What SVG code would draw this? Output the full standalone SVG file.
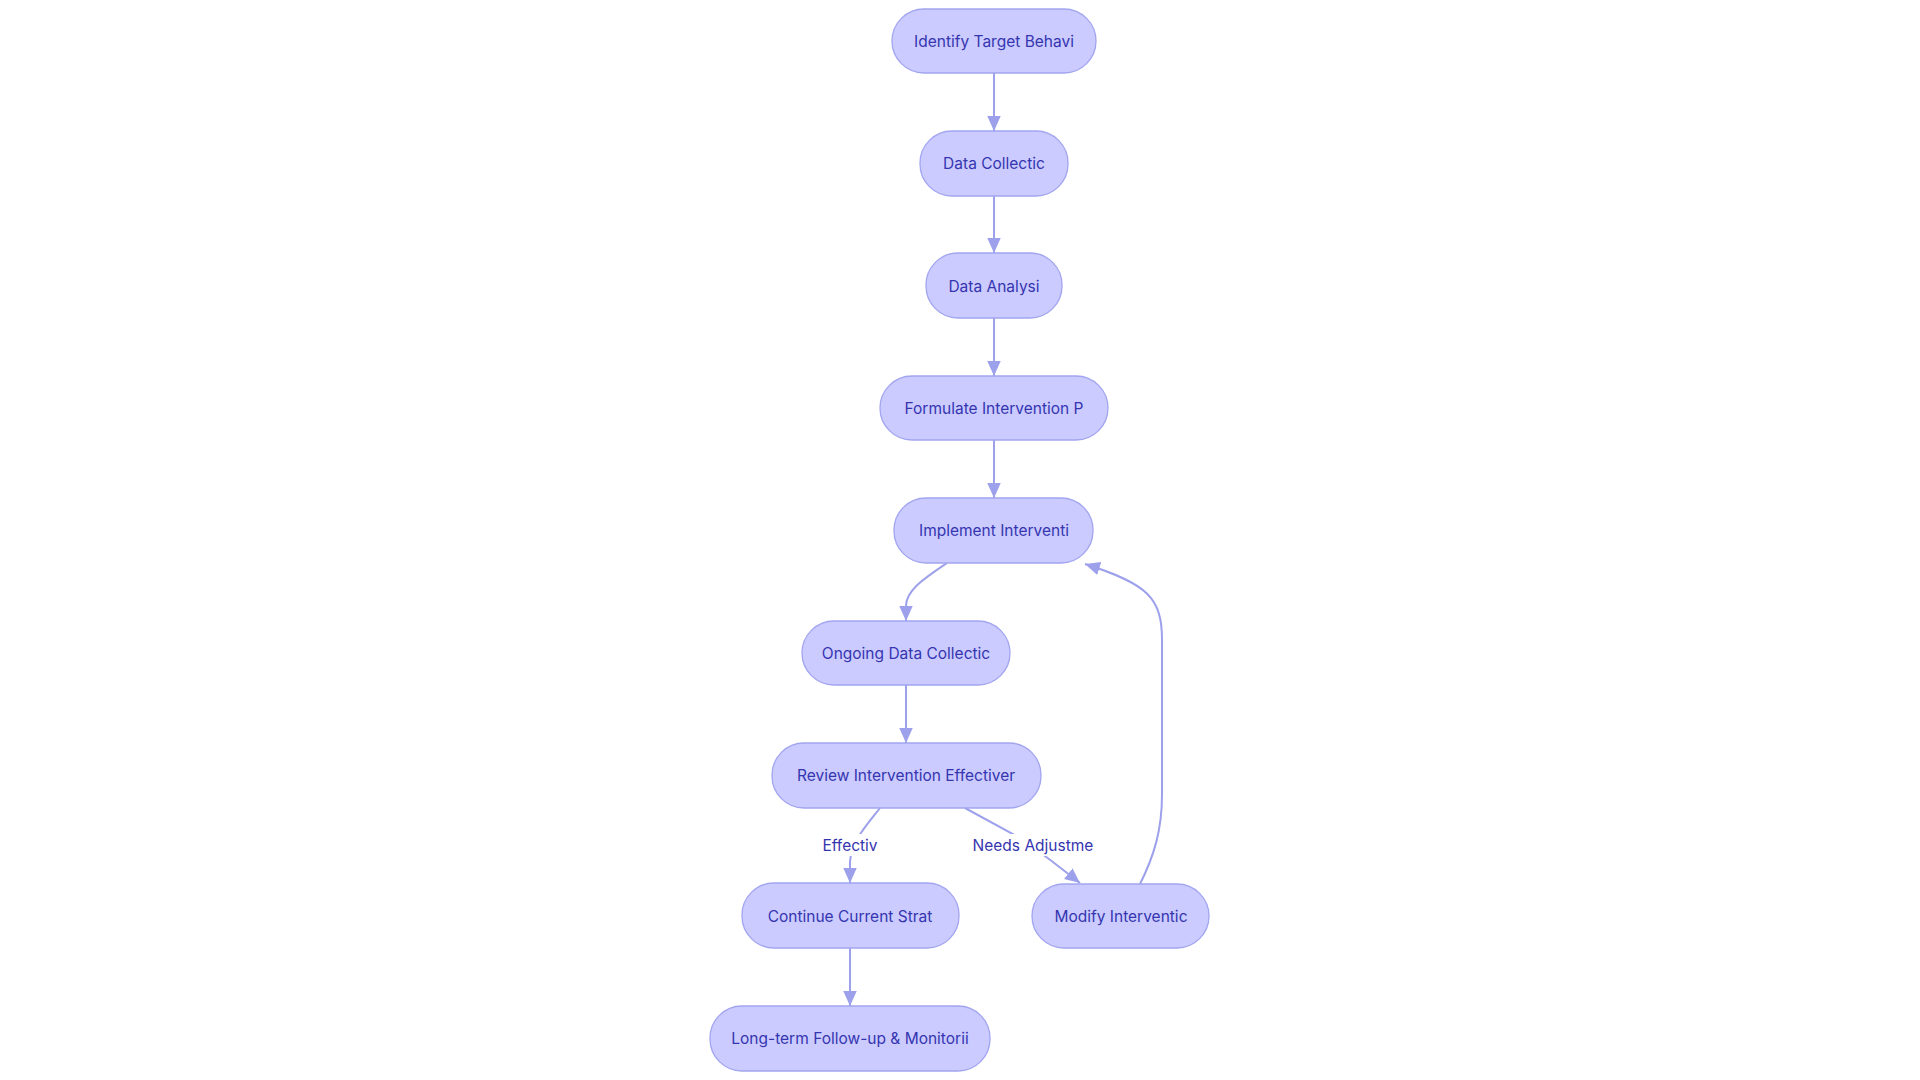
<svg xmlns="http://www.w3.org/2000/svg" width="1920" height="1080" viewBox="0 0 1920 1080">
<style>
.node rect{fill:#CBCBFF;stroke:#A2A5EF;stroke-width:1.3}
.node text,.lbl text{font-family:Inter,"Liberation Sans",sans-serif;font-size:15.5px;fill:#3535B0;text-anchor:middle;dominant-baseline:central}
.edge{fill:none;stroke:#9DA1EC;stroke-width:2;marker-end:url(#arr)}
.lbl rect{fill:#FFFFFF}
</style>
<defs>
<marker id="arr" viewBox="0 0 10 10" refX="10" refY="5" markerWidth="15" markerHeight="15" markerUnits="userSpaceOnUse" orient="auto">
<path d="M0,0.5 L10,5 L0,9.5 z" fill="#9DA1EC"/>
</marker>
</defs>
<rect width="1920" height="1080" fill="#FFFFFF"/>
<g id="edges">
<path class="edge" d="M994,73 L994,131"/>
<path class="edge" d="M994,196 L994,253"/>
<path class="edge" d="M994,318 L994,376"/>
<path class="edge" d="M994,440 L994,498"/>
<path class="edge" d="M947,563 C925,578 906,590 906,606 L906,621"/>
<path class="edge" d="M906,685 L906,743"/>
<path class="edge" d="M880,808 C866,826 851,842 850,862 L850,883"/>
<path class="edge" d="M965,808 L1020,838 C1040,852 1060,867 1080,883"/>
<path class="edge" d="M1140,884 C1154,856 1162,830 1162,795 L1162,640 C1162,598 1148,584 1085,564"/>
<path class="edge" d="M850,948 L850,1006"/>
<g class="lbl" id="lbl-effective"><rect x="820" y="834" width="60" height="22"/><text x="850" y="845">Effectiv</text></g>
<g class="lbl" id="lbl-needs"><rect x="973" y="834" width="120" height="22"/><text x="1033" y="845">Needs Adjustme</text></g>
</g>
<g class="node" id="n1"><rect x="892" y="9" width="204" height="64" rx="32"/><text x="994" y="41">Identify Target Behavi</text></g>
<g class="node" id="n2"><rect x="920" y="131" width="148" height="65" rx="32"/><text x="994" y="163.5">Data Collectic</text></g>
<g class="node" id="n3"><rect x="926" y="253" width="136" height="65" rx="32"/><text x="994" y="286">Data Analysi</text></g>
<g class="node" id="n4"><rect x="880" y="376" width="228" height="64" rx="32"/><text x="994" y="408">Formulate Intervention P</text></g>
<g class="node" id="n5"><rect x="894" y="498" width="199" height="65" rx="32"/><text x="994" y="530.5">Implement Interventi</text></g>
<g class="node" id="n6"><rect x="802" y="621" width="208" height="64" rx="32"/><text x="906" y="653">Ongoing Data Collectic</text></g>
<g class="node" id="n7"><rect x="772" y="743" width="269" height="65" rx="32"/><text x="906" y="775.5">Review Intervention Effectiver</text></g>
<g class="node" id="n8"><rect x="742" y="883" width="217" height="65" rx="32"/><text x="850" y="916">Continue Current Strat</text></g>
<g class="node" id="n9"><rect x="710" y="1006" width="280" height="65" rx="32"/><text x="850" y="1038.5">Long-term Follow-up &amp; Monitorii</text></g>
<g class="node" id="n10"><rect x="1032" y="884" width="177" height="64" rx="32"/><text x="1121" y="916">Modify Interventic</text></g>
</svg>
